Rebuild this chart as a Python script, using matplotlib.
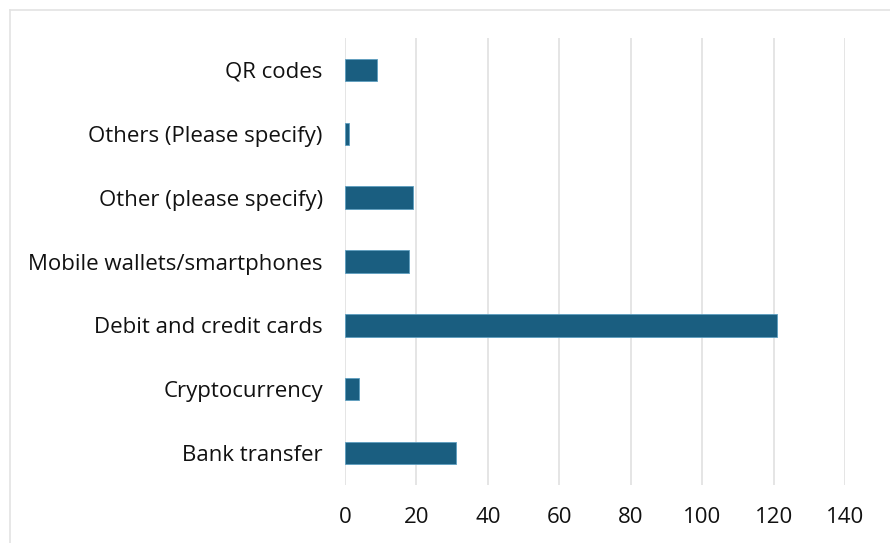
import matplotlib.pyplot as plt
from matplotlib.lines import Line2D

# Data
categories = ['Bank transfer', 'Cryptocurrency', 'Debit and credit cards',
              'Mobile wallets/smartphones', 'Other (please specify)',
              'Others (Please specify)', 'QR codes']
counts = [31, 4, 121, 18, 19, 1, 9]
xticks = [0, 20, 40, 60, 80, 100, 120, 140]

plt.rcParams['font.family'] = ['Open Sans', 'DejaVu Sans']

fig = plt.figure(figsize=(8.9, 5.43), dpi=100)
ax = fig.add_axes([345 / 890, 1 - 485 / 543, 500 / 890, 447 / 543])

ax.barh(range(len(categories)), counts, height=0.35, color='#1a5e80',
        edgecolor='#5d9ec0', linewidth=0.6, zorder=3)

ax.set_xlim(0, 140)
ax.set_ylim(-0.5, len(categories) - 0.5)
ax.set_xticks(xticks)
ax.set_yticks(range(len(categories)))
ax.set_yticklabels(categories)
ax.grid(axis='x', color='#e0e0e0', linewidth=1.2, zorder=0)
for s in ax.spines.values():
    s.set_visible(False)
ax.tick_params(length=0, labelsize=16, colors='#111111')
ax.tick_params(axis='y', pad=16)
ax.tick_params(axis='x', pad=16)

# outer chart frame (cropped at right and bottom)
fig.add_artist(Line2D([10 / 890, 10 / 890], [0, 1 - 10 / 543], color='#e3e3e3', lw=1.2))
fig.add_artist(Line2D([10 / 890, 1], [1 - 10 / 543, 1 - 10 / 543], color='#e3e3e3', lw=1.2))

fig.savefig('out.png', dpi=100)
